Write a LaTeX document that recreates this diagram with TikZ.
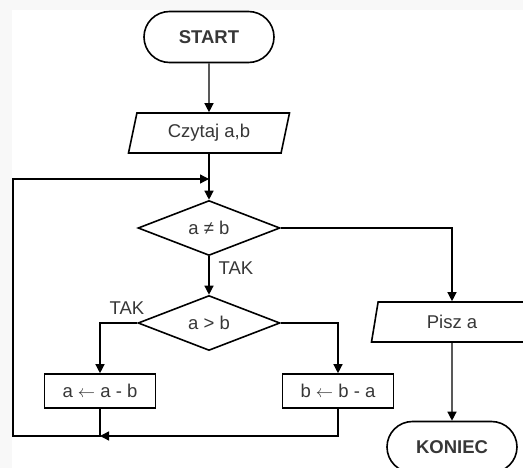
\documentclass[tikz,border=0pt]{standalone}
\usepackage{fontspec}
\setmainfont{Liberation Sans}
\usetikzlibrary{shapes.geometric,shapes.misc,arrows.meta}
\definecolor{hgrund}{RGB}{248,248,248}
\definecolor{schrift}{RGB}{55,55,55}
\begin{document}
\begin{tikzpicture}[x=1pt,y=-1pt,>={Triangle[length=9pt,width=9pt]},
  font=\fontsize{18.5}{21}\selectfont,
  linie/.style={line width=1.3pt},
  rand/.style={draw,line width=1.6pt,text=schrift,inner sep=0pt},
  terminal/.style={rand,rounded rectangle,minimum width=130pt,minimum height=51pt,
    font=\fontsize{18.5}{21}\selectfont\bfseries},
  einaus/.style={rand,trapezium,trapezium left angle=64,trapezium right angle=116,
    trapezium stretches body,minimum width=161pt,minimum height=40pt},
  entscheidung/.style={rand,diamond,aspect=2.6,minimum width=142pt,minimum height=55pt},
  anweisung/.style={rand,rectangle,minimum width=111pt,minimum height=34pt},
  marke/.style={text=schrift,inner sep=0pt}]
% Rahmen: grauer Rand, weisse Flaeche
\useasboundingbox (0,0) rectangle (523,468);
\clip (0,0) rectangle (523,468);
\fill[hgrund] (0,0) rectangle (523,468);
\fill[white] (12,10) rectangle (530,475);
% Bloecke des Ablaufplans
\node[terminal]     (start) at (209,37)  {START};
\node[einaus]       (lies)  at (209,133) {Czytaj a,b};
\node[entscheidung] (ungl)  at (209,228) {a ≠ b};
\node[entscheidung] (groe)  at (209,323) {a > b};
\node[anweisung]    (amb)   at (100,391) {a $\leftarrow$ a - b};
\node[anweisung]    (bma)   at (338,391) {b $\leftarrow$ b - a};
\node[einaus]       (schr)  at (452,322) {Pisz a};
\node[terminal]     (ende)  at (452,447) {KONIEC};
% Hilfspunkte der Schleife
\coordinate (rueck) at (209,179);
\coordinate (treff) at (100,436);
\coordinate (ecke)  at (13,436);
% Verbindungen
\draw[linie,->] (start) -- (lies);
\draw[linie] (lies) -- (rueck);
\draw[linie,->] (rueck) -- (ungl);
\draw[linie,->] (ungl) -- (groe);
\draw[linie,->] (groe.west) -| (amb);
\draw[linie,->] (groe.east) -| (bma);
\draw[linie,->] (bma.south) |- (treff);
\draw[linie,->] (amb.south) |- (ecke) |- (rueck);
\draw[linie,->] (ungl.east) -| (schr);
\draw[linie,->] (schr) -- (ende);
% Beschriftungen
\node[marke] (ja1) at (236,268) {TAK};
\node[marke] (ja2) at (127,308) {TAK};
\end{tikzpicture}
\end{document}
